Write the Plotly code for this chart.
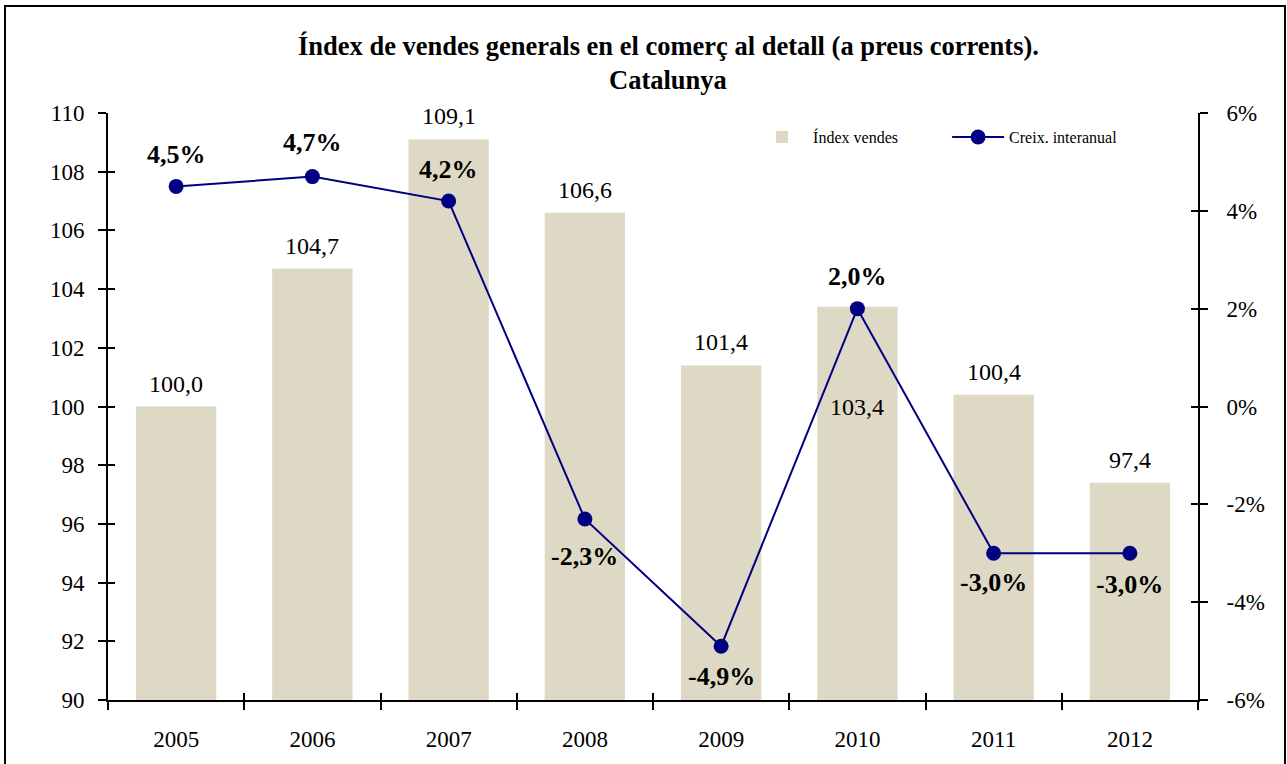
import plotly.graph_objects as go

years = ["2005", "2006", "2007", "2008", "2009", "2010", "2011", "2012"]
index_vendes = [100.0, 104.7, 109.1, 106.6, 101.4, 103.4, 100.4, 97.4]
creix = [4.5, 4.7, 4.2, -2.3, -4.9, 2.0, -3.0, -3.0]
right_tick_vals = [-6, -4, -2, 0, 2, 4, 6]
right_tick_text = ["-6%", "-4%", "-2%", "0%", "2%", "4%", "6%"]
# label placement: pixels above (+) / below (-) the mark
bar_label_shift = [23, 23, 23, 23, 23, -100, 23, 23]
pct_label_shift = [32, 34, 32, -37, -30, 32, -29, -31]

FONT = "Liberation Serif, Times New Roman, serif"
BAR_COLOR = "#DDD9C4"
LINE_COLOR = "#000080"

fig = go.Figure()
fig.add_trace(go.Bar(
    x=years, y=index_vendes, name="Índex vendes",
    marker=dict(color=BAR_COLOR, line=dict(width=0)),
    width=0.59, yaxis="y",
))
fig.add_trace(go.Scatter(
    x=years, y=creix, name="Creix. interanual", yaxis="y2",
    mode="lines+markers",
    line=dict(color=LINE_COLOR, width=2),
    marker=dict(color=LINE_COLOR, size=15),
))
# empty helper traces so the companion tick axes get drawn
fig.add_trace(go.Scatter(x=[], y=[], xaxis="x2", yaxis="y3", showlegend=False,
                         hoverinfo="skip"))
fig.add_trace(go.Scatter(x=[], y=[], xaxis="x2", yaxis="y4", showlegend=False,
                         hoverinfo="skip"))

def fmt(v):
    return f"{v:.1f}".replace(".", ",")

# category positions (index of each year on the category axis)
for i, (v, s) in enumerate(zip(index_vendes, bar_label_shift)):
    fig.add_annotation(x=i, y=v, xref="x", yref="y", text=fmt(v),
                       showarrow=False, yshift=s, yanchor="middle",
                       font=dict(family=FONT, size=24, color="black"))
for i, (v, s) in enumerate(zip(creix, pct_label_shift)):
    fig.add_annotation(x=i, y=v, xref="x", yref="y2", text=f"<b>{fmt(v)}%</b>",
                       showarrow=False, yshift=s, yanchor="middle",
                       font=dict(family=FONT, size=26, color="black"))

# title
fig.add_annotation(x=0.514, y=1.114, xref="paper", yref="paper", showarrow=False,
                   text="<b>Índex de vendes generals en el comerç al detall (a preus corrents).</b>",
                   font=dict(family=FONT, size=26.5, color="black"), yanchor="middle")
fig.add_annotation(x=0.514, y=1.056, xref="paper", yref="paper", showarrow=False,
                   text="<b>Catalunya</b>",
                   font=dict(family=FONT, size=26.5, color="black"), yanchor="middle")

# outer frame
fig.add_shape(type="rect", xref="paper", yref="paper",
              x0=-0.0945, x1=1.0798, y0=-0.2, y1=1.1823,
              line=dict(color="black", width=2), fillcolor="rgba(0,0,0,0)", layer="below")

tick_common = dict(tickwidth=2, tickcolor="black", showgrid=False, zeroline=False,
                   automargin=False)
n = len(years)

fig.update_layout(
    width=1287, height=764,
    margin=dict(l=108, r=89, t=113, b=64, autoexpand=False),
    paper_bgcolor="white", plot_bgcolor="white",
    font=dict(family=FONT, size=23, color="black"),
    showlegend=True,
    legend=dict(orientation="h", x=0.59, y=0.959, xanchor="left", yanchor="middle",
                font=dict(family=FONT, size=16, color="black"),
                bgcolor="rgba(0,0,0,0)", itemwidth=52, entrywidth=129,
                tracegroupgap=0),
    xaxis=dict(type="category", range=[-0.5, n - 0.5],
               showline=True, linecolor="black", linewidth=2,
               ticks="outside", tickson="boundaries", ticklen=8,
               ticklabelstandoff=17, tickangle=0,
               tickfont=dict(family=FONT, size=23), **tick_common),
    # companion axis giving the inward half of the crossing category ticks
    xaxis2=dict(overlaying="x", range=[-0.5, n - 0.5], anchor="y3",
                tickmode="array", tickvals=[k - 0.5 for k in range(n + 1)],
                ticks="inside", ticklen=7, showticklabels=False, showline=False,
                **tick_common),
    yaxis=dict(range=[90, 110], dtick=2, showline=True, linecolor="black", linewidth=2,
               ticks="outside", ticklen=8, ticklabelstandoff=9,
               tickfont=dict(family=FONT, size=23), **tick_common),
    yaxis3=dict(overlaying="y", range=[90, 110], dtick=2, anchor="x2",
                ticks="inside", ticklen=7, showticklabels=False, showline=False,
                **tick_common),
    yaxis2=dict(range=[-6, 6], overlaying="y", side="right",
                tickmode="array", tickvals=right_tick_vals, ticktext=right_tick_text,
                showline=True, linecolor="black", linewidth=2,
                ticks="outside", ticklen=8, ticklabelstandoff=14,
                tickfont=dict(family=FONT, size=23), **tick_common),
    yaxis4=dict(overlaying="y", side="right", range=[-6, 6], dtick=2, anchor="x2",
                ticks="inside", ticklen=7, showticklabels=False, showline=False,
                **tick_common),
)

fig.write_html("out.html", config={"displayModeBar": False},
               post_script="document.body.style.margin='0';")
